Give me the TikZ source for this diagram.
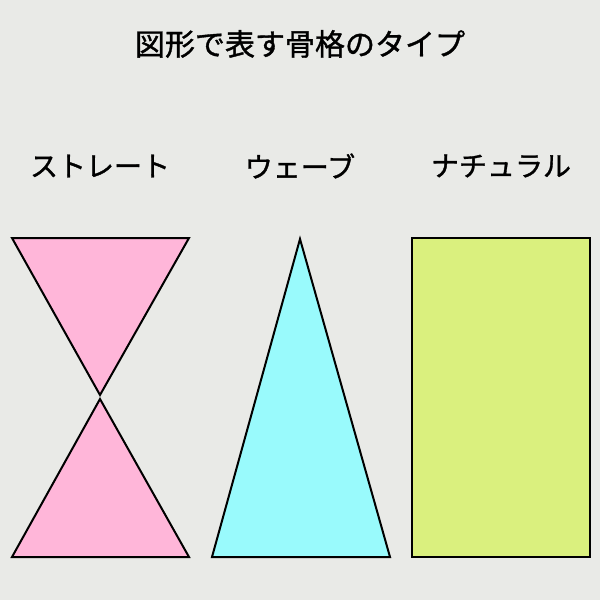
\documentclass[tikz,border=0pt]{standalone}
\usepackage{fontspec}
\newfontfamily\jpfont[FakeBold=1.2]{Noto Sans CJK JP}
\definecolor{bg}{HTML}{E9EAE7}
\definecolor{pinkfill}{HTML}{FFB6D9}
\definecolor{cyanfill}{HTML}{99FAFC}
\definecolor{greenfill}{HTML}{DAF07E}
\tikzset{
  shapeline/.style={draw=black, line width=2pt, line join=miter},
  titletext/.style={font=\jpfont\fontsize{30}{36}\selectfont, text=black, inner sep=0pt},
  labeltext/.style={font=\jpfont\fontsize{28}{34}\selectfont, text=black, inner sep=0pt},
}
\begin{document}
\begin{tikzpicture}[x=1pt,y=-1pt]
\fill[bg] (0,0) rectangle (600,600);
\useasboundingbox (0,0) rectangle (600,600);
\node[titletext] (title) at (300,44) {図形で表す骨格のタイプ};
\node[labeltext] (straight) at (100,166) {ストレート};
\node[labeltext] (wave) at (300,166) {ウェーブ};
\node[labeltext] (natural) at (501,166) {ナチュラル};
% straight: hourglass
\draw[shapeline, fill=pinkfill] (12,238) -- (189,238) -- (100,395) -- cycle;
\draw[shapeline, fill=pinkfill] (100,399) -- (189,557) -- (12,557) -- cycle;
% wave: triangle
\draw[shapeline, fill=cyanfill] (300,239) -- (390,557) -- (212,557) -- cycle;
% natural: rectangle
\draw[shapeline, fill=greenfill] (412,238) rectangle (590,557);
\end{tikzpicture}
\end{document}
